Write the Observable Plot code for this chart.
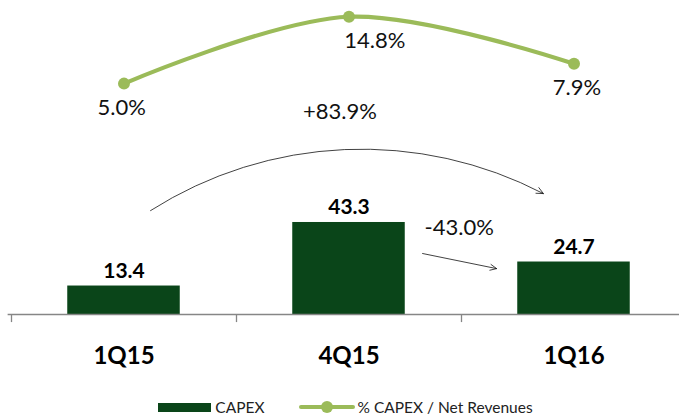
<!DOCTYPE html>
<html>
<head>
<meta charset="utf-8">
<script src="https://cdn.jsdelivr.net/npm/d3@7"></script>
<script src="https://cdn.jsdelivr.net/npm/@observablehq/plot@0.6"></script>
<style>
  html, body { margin: 0; padding: 0; background: #fff; }
  #chart { width: 679px; height: 416px; position: relative; font-family: Lato, "Open Sans", sans-serif; }
  .legend { position: absolute; left: 6px; top: 397px; width: 679px; height: 20px; display: flex; justify-content: center; align-items: center; font-size: 15.5px; color: #222; }
  .legend .item { display: flex; align-items: center; margin: 0 4px; }
  .sw-bar { width: 53px; height: 9px; background: #0a4519; margin-right: 4px; }
  .sw-line { position: relative; width: 56px; height: 12px; margin-right: 3px; margin-left: 26px; }
  .sw-line .ln { position: absolute; left: 0; right: 0; top: 4px; height: 4px; background: #9bbb59; border-radius: 2px; }
  .sw-line .dt { position: absolute; left: 22px; top: 0; width: 12px; height: 12px; border-radius: 6px; background: #9bbb59; }
</style>
</head>
<body>
<div id="chart"></div>
<script>
const categories = ["1Q15", "4Q15", "1Q16"];
const capex = [13.4, 43.3, 24.7];
const capexLabels = ["13.4", "43.3", "24.7"];
const ratio = [5.0, 14.8, 7.9];
const ratioLabels = ["5.0%", "14.8%", "7.9%"];
const changeLabels = ["+83.9%", "-43.0%"];
const changeFrom = [0, 1];
const changeTo = [2, 2];

const barColor = "#0a4519";
const lineColor = "#9bbb59";

// secondary axis for the ratio line, expressed in bar units
const ratioToY = v => 92.6 + 3.21 * v;
// horizontal nudges of the ratio labels (in category units)
const ratioLabelShift = [-0.01, 0.115, 0.013];

const bars = categories.map((c, i) => ({i, c, v: capex[i], label: capexLabels[i]}));
const line = categories.map((c, i) => ({i, c, v: ratio[i], label: ratioLabels[i]}));
const changes = changeLabels.map((l, k) => ({label: l, from: changeFrom[k], to: changeTo[k]}));

const font = "Lato, 'Open Sans', sans-serif";

const plot = Plot.plot({
  width: 679,
  height: 396,
  marginTop: 0, marginBottom: 0, marginLeft: 0, marginRight: 0,
  style: {fontFamily: font, background: "white", overflow: "visible"},
  x: {type: "linear", domain: [-0.5, 2.5], range: [11, 686], axis: null},
  y: {domain: [0, 140], range: [314, 16.5], axis: null},
  marks: [
    Plot.rectY(bars, {x1: d => d.i - 0.25, x2: d => d.i + 0.25, y1: 0, y2: "v", fill: barColor}),
    Plot.ruleY([0], {x1: -0.515, x2: 2.5, stroke: "#868686", strokeWidth: 1.3}),
    Plot.ruleX([-0.5, 0.5, 1.5], {x: d => d, y1: 0, y2: -3.8, stroke: "#868686", strokeWidth: 1.3}),
    Plot.text(bars, {x: "i", y: "v", text: "label", dy: -15, fontSize: 21, fontWeight: "bold", fill: "#000"}),
    Plot.text(bars, {x: "i", y: 0, text: "c", dy: 42, fontSize: 24, fontWeight: "bold", fill: "#000"}),
    Plot.line(line, {x: "i", y: d => ratioToY(d.v), stroke: lineColor, strokeWidth: 4.2, curve: "catmull-rom"}),
    Plot.dot(line, {x: "i", y: d => ratioToY(d.v), r: 6, fill: lineColor}),
    Plot.text(line, {x: d => d.i + ratioLabelShift[d.i], y: d => ratioToY(d.v), text: "label", dy: 24, fontSize: 22, fill: "#111"}),
    // change arrows
    Plot.arrow(changes.filter(d => d.from === 0), {
      x1: d => d.from + 0.118, y1: d => capex[d.from] + 35.5,
      x2: d => d.to - 0.136, y2: d => capex[d.to] + 32.2,
      bend: 30, stroke: "#111", strokeWidth: 0.8, headLength: 14, headAngle: 50
    }),
    Plot.arrow(changes.filter(d => d.from === 1), {
      x1: d => d.from + 0.327, y1: d => capex[d.to] + 4,
      x2: d => d.to - 0.344, y2: d => capex[d.to] - 3.1,
      stroke: "#111", strokeWidth: 0.8, headLength: 13, headAngle: 50
    }),
    Plot.text(changes.filter(d => d.from === 0), {x: d => (d.from + d.to) / 2 - 0.04, y: d => ratioToY(ratio[d.from]), text: "label", dy: 28, fontSize: 22, fill: "#111"}),
    Plot.text(changes.filter(d => d.from === 1), {x: d => d.from + 0.49, y: d => capex[d.from], text: "label", dy: 5, fontSize: 22, fill: "#111"})
  ]
});

const chart = document.getElementById("chart");
chart.appendChild(plot);
const legend = document.createElement("div");
legend.className = "legend";
legend.innerHTML = `<div class="item"><div class="sw-bar"></div><span>CAPEX</span></div>` +
  `<div class="item"><div class="sw-line"><div class="ln"></div><div class="dt"></div></div><span>% CAPEX / Net Revenues</span></div>`;
chart.appendChild(legend);
</script>
</body>
</html>
